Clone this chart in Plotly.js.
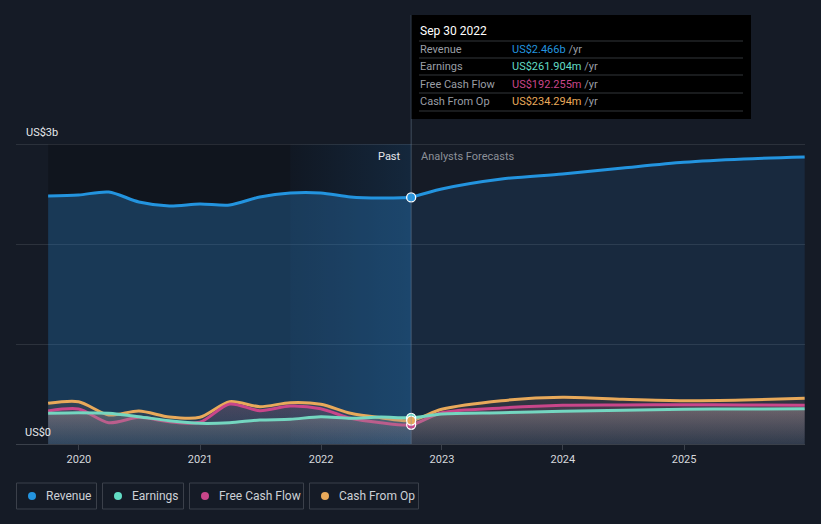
<!DOCTYPE html>
<html>
<head>
<meta charset="utf-8">
<script src="https://cdn.plot.ly/plotly-3.0.1.min.js"></script>
<style>
html,body{margin:0;padding:0;background:#151b26;}
#chart{width:821px;height:524px;}
</style>
</head>
<body>
<div id="chart"></div>
<script>
// ---- data ----
const pastDates = ['2019-09-30','2019-12-31','2020-03-31','2020-06-30','2020-09-30','2020-12-31','2021-03-31','2021-06-30','2021-09-30','2021-12-31','2022-03-31','2022-06-30','2022-09-30'];
const revenuePast = [2.48e9,2.49e9,2.52e9,2.42e9,2.38e9,2.40e9,2.39e9,2.47e9,2.51e9,2.51e9,2.47e9,2.46e9,2.466e9];
const earningsPast = [0.307e9,0.313e9,0.307e9,0.273e9,0.233e9,0.207e9,0.213e9,0.24e9,0.247e9,0.273e9,0.257e9,0.27e9,0.262e9];
const fcfPast = [0.33e9,0.35e9,0.213e9,0.267e9,0.223e9,0.217e9,0.40e9,0.333e9,0.38e9,0.353e9,0.257e9,0.213e9,0.192e9];
const cfoPast = [0.407e9,0.423e9,0.29e9,0.33e9,0.27e9,0.267e9,0.423e9,0.373e9,0.413e9,0.397e9,0.307e9,0.263e9,0.234e9];

const fcstDates = ['2022-09-30','2022-12-31','2023-06-30','2023-12-31','2024-06-30','2024-12-31','2025-06-30','2025-12-31'];
const revenueFcst = [2.466e9,2.55e9,2.65e9,2.70e9,2.76e9,2.817e9,2.85e9,2.87e9];
const earningsFcst = [0.262e9,0.30e9,0.313e9,0.327e9,0.337e9,0.347e9,0.35e9,0.353e9];
const fcfFcst = [0.192e9,0.313e9,0.36e9,0.387e9,0.39e9,0.393e9,0.39e9,0.387e9];
const cfoFcst = [0.234e9,0.347e9,0.433e9,0.467e9,0.447e9,0.433e9,0.44e9,0.457e9];

const seriesNames = ['Revenue','Earnings','Free Cash Flow','Cash From Op'];
const seriesColors = ['#2394df','#62dcc4','#c9468a','#e8a95a'];
const lineColors = ['#2394df','#74d6c0','#c9468a','#e8a95a'];
const tooltipDate = 'Sep 30 2022';
const tooltipValues = ['US$2.466b','US$261.904m','US$192.255m','US$234.294m'];
const yTickLabels = ['US$0','US$3b'];
const xTickVals = ['2020-01-01','2021-01-01','2022-01-01','2023-01-01','2024-01-01','2025-01-01'];
const xTickText = ['2020','2021','2022','2023','2024','2025'];
const pastStart = '2019-09-30', highlightStart = '2021-09-30', pastEnd = '2022-09-30';

// ---- traces ----
const allDates = pastDates.concat(fcstDates.slice(1));
const join = (a,b)=>a.concat(b.slice(1));
const earnAll = join(earningsPast, earningsFcst);
const fcfAll = join(fcfPast, fcfFcst);
const cfoAll = join(cfoPast, cfoFcst);
const lowMax = Math.max(...cfoAll);

const traces = [];
// highlight gradient of last past year
traces.push({x:[highlightStart,pastEnd,pastEnd,highlightStart,highlightStart], y:[0,0,3e9,3e9,0],
  mode:'none', fill:'toself', hoverinfo:'skip',
  fillgradient:{type:'horizontal', colorscale:[[0,'rgba(40,120,200,0.03)'],[1,'rgba(40,130,210,0.17)']]}});
// revenue
traces.push({x:pastDates, y:revenuePast, mode:'lines', line:{color:lineColors[0], width:3, shape:'spline', smoothing:0.8},
  fill:'tozeroy', fillcolor:'rgba(50,150,235,0.28)', hoverinfo:'skip'});
traces.push({x:fcstDates, y:revenueFcst, mode:'lines', line:{color:lineColors[0], width:3, shape:'spline', smoothing:0.8},
  fill:'tozeroy', fillcolor:'rgba(50,150,235,0.12)', hoverinfo:'skip'});
// lower series
traces.push({x:allDates, y:cfoAll, mode:'lines', line:{color:lineColors[3], width:3, shape:'spline', smoothing:0.8},
  fill:'tozeroy', hoverinfo:'skip',
  fillgradient:{type:'vertical', start:0, stop:lowMax, colorscale:[[0,'rgba(140,110,90,0.04)'],[1,'rgba(170,110,80,0.18)']]}});
traces.push({x:allDates, y:fcfAll, mode:'lines', line:{color:lineColors[2], width:3, shape:'spline', smoothing:0.8},
  fill:'tozeroy', hoverinfo:'skip',
  fillgradient:{type:'vertical', start:0, stop:lowMax, colorscale:[[0,'rgba(160,100,130,0.04)'],[1,'rgba(200,95,140,0.2)']]}});
traces.push({x:allDates, y:earnAll, mode:'lines', line:{color:lineColors[1], width:3, shape:'spline', smoothing:0.8},
  fill:'tozeroy', hoverinfo:'skip',
  fillgradient:{type:'vertical', start:0, stop:lowMax, colorscale:[[0,'rgba(140,138,138,0.14)'],[1,'rgba(168,160,152,0.5)']]}});
// markers at last reported point
const markerOrder = [1,2,3,0];
const lastVals = [revenuePast[12], earningsPast[12], fcfPast[12], cfoPast[12]];
markerOrder.forEach(i=>{
  traces.push({x:[pastEnd], y:[lastVals[i]], mode:'markers', hoverinfo:'skip',
    marker:{size:9, color:seriesColors[i], line:{color:'#ffffff', width:1.3}}});
});

// ---- layout helpers ----
const L=16, W=789, B=444, H=300;
const px = v => (v-L)/W;
const py = v => (B-v)/H;

const shapes = [
  {type:'rect', layer:'below', xref:'x', yref:'y', x0:pastStart, x1:pastEnd, y0:0, y1:3e9, fillcolor:'rgba(0,0,0,0.2)', line:{width:0}},
  {type:'line', xref:'paper', yref:'y', x0:0, x1:1, y0:3e9, y1:3e9, line:{color:'rgba(255,255,255,0.2)', width:1}},
  {type:'line', xref:'x', yref:'paper', x0:pastEnd, x1:pastEnd, y0:0, y1:py(15), line:{color:'rgba(120,140,165,0.45)', width:1}},
  {type:'rect', xref:'paper', yref:'paper', x0:px(411.5), x1:px(751), y0:py(119), y1:py(15), fillcolor:'#000000', line:{width:0}}
];
[41,58,75,93,111].forEach(yy=>{
  shapes.push({type:'line', xref:'paper', yref:'paper', x0:px(419), x1:px(743), y0:py(yy), y1:py(yy), line:{color:'#33363b', width:1}});
});

const annotations = [];
const ann = (text, x, y, opts={}) => Object.assign({text, x, y, xref:'paper', yref:'paper', showarrow:false,
  xanchor:'left', yanchor:'middle', font:{family:'Roboto, sans-serif', size:11, color:'#e6e8eb'}}, opts);

annotations.push(ann(tooltipDate, px(418), py(31), {font:{family:'Roboto, sans-serif', size:12, color:'#ffffff'}}));
const rowY = [49,66,84,101];
seriesNames.forEach((n,i)=>{
  annotations.push(ann(n, px(418), py(rowY[i]), {font:{family:'Roboto, sans-serif', size:11, color:'#9a9ea5'}}));
  annotations.push(ann('<span style="color:'+seriesColors[i]+'">'+tooltipValues[i]+'</span> /yr', px(510), py(rowY[i]),
    {font:{family:'Roboto, sans-serif', size:11, color:'#9a9ea5'}}));
});
annotations.push(ann(yTickLabels[1], px(24), py(132), {font:{family:'Roboto, sans-serif', size:11, color:'#e6e8eb'}}));
annotations.push(ann(yTickLabels[0], px(23), py(432), {font:{family:'Roboto, sans-serif', size:11, color:'#e6e8eb'}}));
annotations.push(ann('Past', px(403), py(156), {xanchor:'right', font:{family:'Roboto, sans-serif', size:11, color:'#e6e8eb'}}));
annotations.push(ann('Analysts Forecasts', px(419), py(156), {font:{family:'Roboto, sans-serif', size:11, color:'#8c9098'}}));

// legend
const boxes = [[16,97],[102,184],[189,304],[309,419]];
const dots = [32,118,205,325];
const texts = [44,130,217,337];
seriesNames.forEach((n,i)=>{
  shapes.push({type:'rect', xref:'paper', yref:'paper', x0:px(boxes[i][0]+0.5), x1:px(boxes[i][1]-0.5), y0:py(509), y1:py(483),
    fillcolor:'rgba(0,0,0,0)', line:{color:'#3b404a', width:1}});
  shapes.push({type:'circle', xref:'paper', yref:'paper', x0:px(dots[i]-4), x1:px(dots[i]+4), y0:py(500), y1:py(492),
    fillcolor:seriesColors[i], line:{width:0}});
  annotations.push(ann(n, px(texts[i]), py(496), {font:{family:'Roboto, sans-serif', size:12, color:'#cdd1d6'}}));
});

const layout = {
  width:821, height:524,
  margin:{l:L, r:821-L-W, t:B-H, b:524-B},
  paper_bgcolor:'#151b26', plot_bgcolor:'#151b26',
  showlegend:false,
  xaxis:{type:'date', range:['2019-06-25','2026-01-01'], showgrid:false, zeroline:false,
    showline:true, linecolor:'#3a404a', linewidth:1, ticks:'outside', ticklen:5, tickcolor:'#3a404a',
    tickvals:xTickVals, ticktext:xTickText,
    tickfont:{family:'Roboto, sans-serif', size:11, color:'#d5d8dc'}},
  yaxis:{range:[0,3e9], tickvals:[1e9,2e9], showticklabels:false, gridcolor:'rgba(255,255,255,0.1)', zeroline:false, showline:false, fixedrange:true},
  shapes, annotations
};
Plotly.newPlot('chart', traces, layout, {displayModeBar:false, staticPlot:true});
</script>
</body>
</html>
